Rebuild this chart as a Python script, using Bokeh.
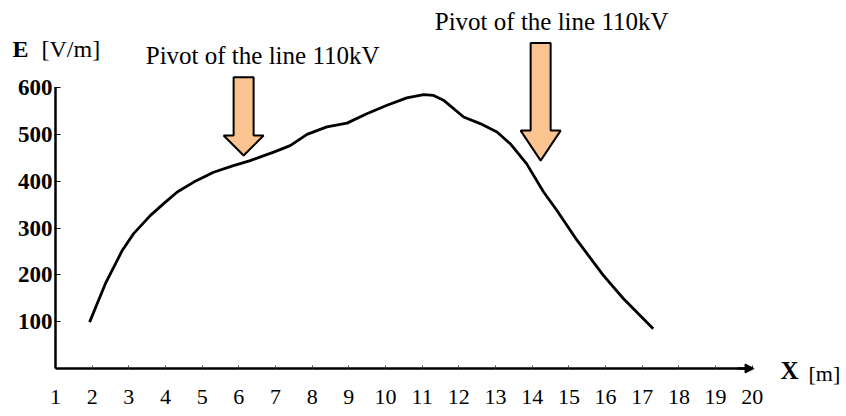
import numpy as np
from bokeh.plotting import figure
from bokeh.models import Range1d, FixedTicker, Label, Arrow, NormalHead
from bokeh.embed import file_html
from bokeh.resources import INLINE

# distance along the profile [m]
x_m = [1.93, 2.36, 2.82, 3.13, 3.59, 3.95, 4.32, 4.77, 5.31, 5.81, 6.31, 6.95,
       7.40, 7.86, 8.40, 8.95, 9.49, 10.04, 10.58, 11.04, 11.31, 11.58, 12.13,
       12.58, 13.04, 13.40, 13.85, 14.31, 14.67, 15.22, 15.94, 16.49, 17.30]
# electric field strength [V/m]
e_vm = [99, 181, 252, 288, 327, 352, 377, 398, 419, 432, 444, 462,
        476, 500, 516, 524, 544, 562, 578, 585, 583, 573, 537,
        523, 505, 480, 437, 377, 338, 274, 199, 149, 85]

x_ticks = list(range(1, 21))
y_ticks = [100, 200, 300, 400, 500, 600]

# pivots of the 110 kV line
pivot_x = [6.13, 14.23]
pivot_tip = [455, 444]
pivot_top = [622, 695]
pivot_label = ["Pivot of the line 110kV", "Pivot of the line 110kV"]

SERIF = "Liberation Serif"
W, H = 846, 416
PX_X = 36.67    # pixels per metre
PX_Y = 0.4683   # pixels per V/m
X0_PX, Y0_PX = 55, 368   # where the axes cross on the canvas

p = figure(width=W, height=H, output_backend="svg", toolbar_location=None,
           x_range=Range1d(1 - X0_PX / PX_X, 1 + (W - X0_PX) / PX_X),
           y_range=Range1d(-(H - Y0_PX) / PX_Y, Y0_PX / PX_Y),
           min_border=0)
p.outline_line_color = None
p.grid.visible = False
p.background_fill_color = "white"
p.border_fill_color = "white"

# axes (crossing at x=1, E=0)
xa = p.xaxis[0]
xa.fixed_location = 0
xa.ticker = FixedTicker(ticks=x_ticks)
xa.bounds = (1, 20)
xa.axis_line_width = 2.5
xa.axis_line_color = "black"
xa.major_tick_in = 3
xa.major_tick_out = 0
xa.major_tick_line_color = "#444444"
xa.minor_tick_line_color = None
xa.major_label_text_font = SERIF
xa.major_label_text_font_size = "22px"
xa.major_label_text_color = "black"
xa.major_label_standoff = 21

ya = p.yaxis[0]
ya.fixed_location = 1
ya.ticker = FixedTicker(ticks=y_ticks)
ya.bounds = (0, 600)
ya.axis_line_width = 2.5
ya.axis_line_color = "black"
ya.major_tick_in = 5
ya.major_tick_out = 1
ya.major_tick_line_color = "black"
ya.minor_tick_line_color = None
ya.major_label_text_font = SERIF
ya.major_label_text_font_size = "23px"
ya.major_label_text_font_style = "bold"
ya.major_label_text_color = "black"
ya.major_label_standoff = 2

# arrow head at the end of the x axis
p.add_layout(Arrow(end=NormalHead(size=9, fill_color="black", line_color="black"),
                   x_start=19.6, y_start=0, x_end=20.05, y_end=0,
                   line_width=2.5, line_color="black"))

# field curve
p.line(x_m, e_vm, line_color="black", line_width=2.8)

# block arrows for pivots
sw = 10 / PX_X   # half shaft width (data x)
hw = 20 / PX_X   # half head width
head_px = [20, 30]   # head lengths in pixels
xs, ys = [], []
for xc, tip, top, hpx in zip(pivot_x, pivot_tip, pivot_top, head_px):
    hl = hpx / PX_Y
    xs.append([xc - sw, xc + sw, xc + sw, xc + hw, xc, xc - hw, xc - sw])
    ys.append([top, top, tip + hl, tip + hl, tip, tip + hl, tip + hl])
p.patches(xs, ys, fill_color="#FAC38F", line_color="black", line_width=2)

label_dx = [19, 11]   # horizontal shift of the captions (px)
for xc, top, txt, dx in zip(pivot_x, pivot_top, pivot_label, label_dx):
    p.add_layout(Label(x=xc, y=top + 22 / PX_Y, x_offset=dx, text=txt,
                       text_align="center", text_baseline="alphabetic",
                       text_font=SERIF, text_font_size="25px", text_color="black"))

# axis titles
p.add_layout(Label(x=1 + (12 - X0_PX) / PX_X, y=(Y0_PX - 48) / PX_Y, text="E",
                   text_font=SERIF, text_font_size="24px", text_font_style="bold",
                   text_color="black", text_baseline="middle", text_align="left"))
p.add_layout(Label(x=1 + (41 - X0_PX) / PX_X, y=(Y0_PX - 48) / PX_Y, text="[V/m]",
                   text_font=SERIF, text_font_size="24px", text_color="black",
                   text_baseline="middle", text_align="left"))
p.add_layout(Label(x=1 + (780 - X0_PX) / PX_X, y=(Y0_PX - 370) / PX_Y, text="X",
                   text_font=SERIF, text_font_size="25px", text_font_style="bold",
                   text_color="black", text_baseline="middle", text_align="left"))
p.add_layout(Label(x=1 + (808 - X0_PX) / PX_X, y=(Y0_PX - 373) / PX_Y, text="[m]",
                   text_font=SERIF, text_font_size="22px", text_color="black",
                   text_baseline="middle", text_align="left"))

open("out.html", "w").write(file_html(p, INLINE))
